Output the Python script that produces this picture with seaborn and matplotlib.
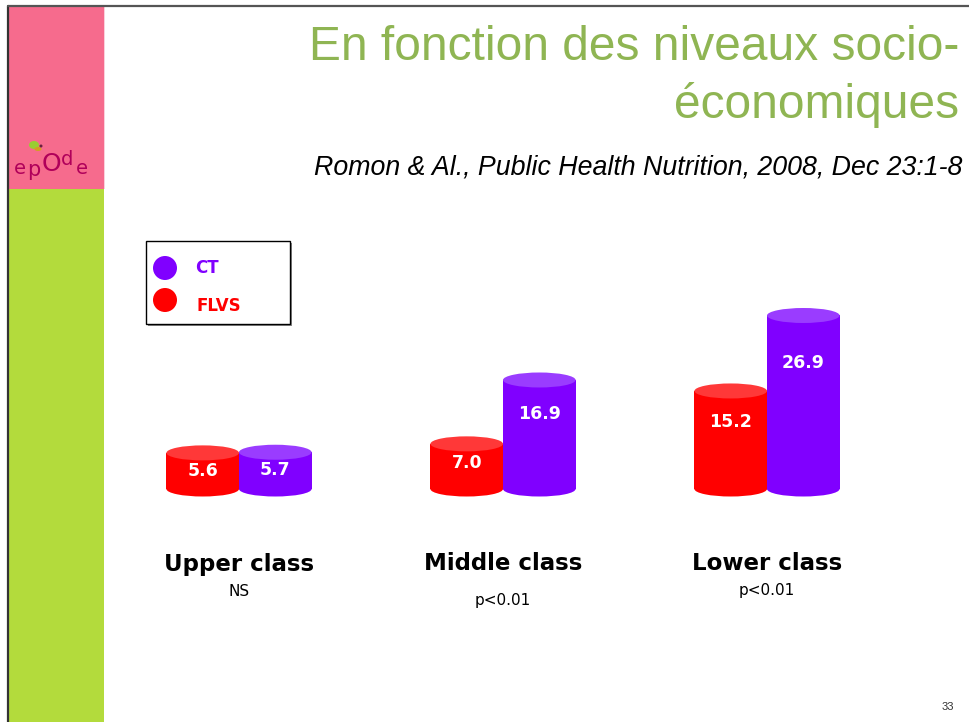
import numpy as np
import pandas as pd
import matplotlib
matplotlib.use("Agg")
import matplotlib.pyplot as plt
import matplotlib.transforms as mtransforms
from matplotlib.patches import Ellipse, Rectangle, Circle
from matplotlib.colors import to_rgb
import seaborn as sns

# ---- data ----
classes = ["Upper class", "Middle class", "Lower class"]
significance = ["NS", "p<0.01", "p<0.01"]
groups = ["FLVS", "CT"]
flvs_values = [5.6, 7.0, 15.2]
ct_values = [5.7, 16.9, 26.9]
title_lines = ["En fonction des niveaux socio-", "économiques"]
citation = "Romon & Al., Public Health Nutrition, 2008, Dec 23:1-8"
page_number = "33"

colors = {"FLVS": "#FF0000", "CT": "#8000FF"}
top_colors = {"FLVS": "#FF3838", "CT": "#9A3CFF"}

df = pd.DataFrame({
    "cls": classes * 2,
    "grp": ["FLVS"] * 3 + ["CT"] * 3,
    "val": flvs_values + ct_values,
})

sns.set_theme(style="white")
plt.rcParams["font.family"] = ["DejaVu Sans"]

W, H = 970, 722
fig = plt.figure(figsize=(W / 100, H / 100), dpi=100)
fig.patch.set_facecolor("white")

# overlay axes in pixel coordinates for slide decoration
ov = fig.add_axes([0, 0, 1, 1], zorder=0)
ov.set_xlim(0, W)
ov.set_ylim(H, 0)
ov.axis("off")

# sidebar
ov.add_patch(Rectangle((9, 6), 95, 183, facecolor="#F66B8D", edgecolor="none"))
ov.add_patch(Rectangle((9, 189), 95, H - 189, facecolor="#B3DB3C", edgecolor="none"))
ov.add_patch(Rectangle((104, 6), 1.5, 183, facecolor="#FAD0DC", edgecolor="none"))
ov.plot([8, 8], [6, H], color="#333333", lw=1.6)
ov.plot([8, W], [6, 6], color="#555555", lw=1.6)

# epode logo
logo_c = "#B0005A"
ov.add_patch(Ellipse((34, 145), 10, 8, facecolor="#9ACD32", edgecolor="none"))
ov.add_patch(Ellipse((38, 149), 7, 4, facecolor="#D4A020", edgecolor="none"))
ov.add_patch(Ellipse((41, 146), 3, 3, facecolor="#6A2040", edgecolor="none"))
ov.text(14, 174, "e", color=logo_c, fontsize=14, ha="left", va="baseline")
ov.text(27, 176, "p", color=logo_c, fontsize=15, ha="left", va="baseline")
ov.text(42, 171, "O", color=logo_c, fontsize=18, ha="left", va="baseline")
ov.text(61, 165, "d", color=logo_c, fontsize=14, ha="left", va="baseline")
ov.text(76, 174, "e", color=logo_c, fontsize=14, ha="left", va="baseline")

# title & citation
title_c = "#8FB553"
ov.text(959, 60, title_lines[0], color=title_c, fontsize=34.5, ha="right",
        va="baseline", family="Liberation Sans")
ov.text(959, 118, title_lines[1], color=title_c, fontsize=34.5, ha="right",
        va="baseline", family="Liberation Sans")
ov.text(962, 175, citation, color="black", fontsize=19.3, ha="right",
        va="baseline", family="Liberation Sans", style="italic")
ov.text(954, 710, page_number, color="#333333", fontsize=8, ha="right",
        va="baseline", family="Liberation Sans")

# legend box
ov.add_patch(Rectangle((148, 243), 144, 83, facecolor="#888888", edgecolor="none"))
ov.add_patch(Rectangle((146, 241), 144, 83, facecolor="white", edgecolor="black", lw=1))
ov.add_patch(Circle((165, 268), 12, facecolor=colors["CT"], edgecolor="none"))
ov.add_patch(Circle((165, 300), 12, facecolor=colors["FLVS"], edgecolor="none"))
ov.text(195, 268, "CT", color=colors["CT"], fontsize=12, fontweight="bold",
        ha="left", va="center")
ov.text(197, 306, "FLVS", color=colors["FLVS"], fontsize=12, fontweight="bold",
        ha="left", va="center")

# ---- chart axes ----
px_per_unit = 6.45
ax_bottom_px, ax_top_px, zero_px = 540, 280, 489
ax = fig.add_axes([107 / W, (H - ax_bottom_px) / H, 792 / W,
                   (ax_bottom_px - ax_top_px) / H], zorder=2)
ax.patch.set_alpha(0)

sns.barplot(data=df, x="cls", y="val", hue="grp", hue_order=groups,
            order=classes, palette=colors, saturation=1, width=0.55,
            ax=ax, legend=False, errorbar=None, edgecolor="none", linewidth=0)

ymin = -(ax_bottom_px - zero_px) / px_per_unit
ymax = (zero_px - ax_top_px) / px_per_unit
ax.set_xlim(-0.5, 2.5)
ax.set_ylim(ymin, ymax)
ax.axis("off")

ell_h = 15 / px_per_unit
red_rgb = np.array(to_rgb(colors["FLVS"]))
for p in ax.patches[:]:
    if not isinstance(p, Rectangle):
        continue
    x0, w, h = p.get_x(), p.get_width(), p.get_height()
    if w <= 0:
        continue
    fc = np.array(p.get_facecolor()[:3])
    key = "FLVS" if np.allclose(fc, red_rgb, atol=0.05) else "CT"
    cx = x0 + w / 2
    p.set_zorder(2)
    ax.add_patch(Ellipse((cx, 0), w, ell_h, facecolor=colors[key],
                         edgecolor="none", zorder=1.9))
    ax.add_patch(Ellipse((cx, h), w, ell_h, facecolor=top_colors[key],
                         edgecolor="none", zorder=3))
    ax.text(cx, 0.78 * h - 1.5, f"{h:.1f}", color="white", fontsize=12.5,
            fontweight="bold", ha="center", va="center", zorder=4)

# category labels (x from data, y in pixels)
blend = mtransforms.blended_transform_factory(ax.transData, ov.transData)
sig_dy = [0, 9, 0]
for i, (c, s) in enumerate(zip(classes, significance)):
    ov.text(i, 564, c, transform=blend, fontsize=16.5, fontweight="bold",
            ha="center", va="center", color="black")
    ov.text(i, 591 + sig_dy[i], s, transform=blend, fontsize=11,
            ha="center", va="center", color="black")

fig.savefig("out.png", dpi=100)
